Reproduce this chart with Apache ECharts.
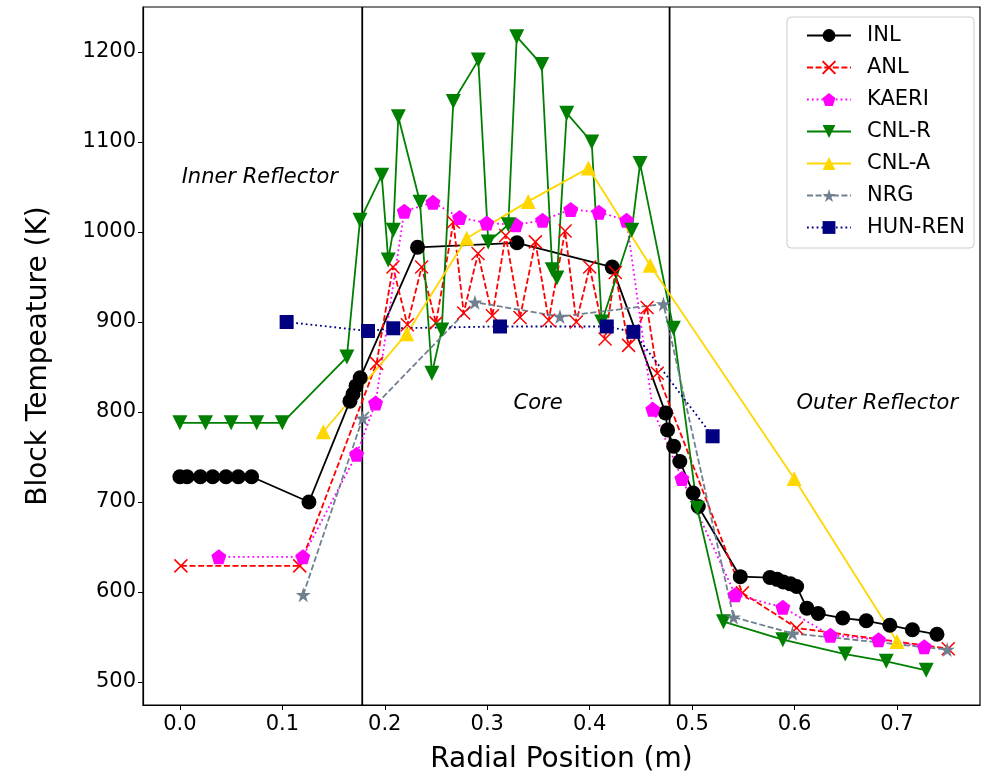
<!DOCTYPE html>
<html>
<head>
<meta charset="utf-8">
<script src="https://cdn.jsdelivr.net/npm/echarts@6/dist/echarts.min.js"></script>
<style>
html, body { margin: 0; padding: 0; background: #fff; }
#chart { width: 986px; height: 775px; }
</style>
</head>
<body>
<div id="chart"></div>
<script>
// values (x in m, y in K)
var inlX = [0, 0.007, 0.02, 0.032, 0.045, 0.057, 0.070, 0.126, 0.166, 0.169, 0.172, 0.176, 0.232, 0.329, 0.422,
    0.474, 0.476, 0.482, 0.488, 0.501, 0.506, 0.547, 0.576, 0.583, 0.589, 0.596, 0.602, 0.612, 0.623, 0.647, 0.670, 0.693, 0.715, 0.739];
var inlY = [728, 728, 728, 728, 728, 728, 728, 700, 812, 820, 829, 838, 983, 988, 961,
    799, 780, 762, 745, 710, 695, 617, 616, 614, 611, 609, 606, 582, 576, 571, 568, 563, 558, 553];

var anlX = [0.001, 0.117, 0.192, 0.208, 0.222, 0.236, 0.250, 0.267, 0.277, 0.291, 0.305, 0.318, 0.332, 0.347, 0.360,
    0.376, 0.387, 0.400, 0.415, 0.425, 0.438, 0.456, 0.466, 0.549, 0.602, 0.750];
var anlY = [629, 629, 854, 961, 897, 961, 899, 1011, 910, 976, 907, 996, 905, 989, 902,
    1001, 900, 961, 881, 955, 874, 916, 843, 599, 560, 537];

var kaeriX = [0.038, 0.120, 0.1725, 0.191, 0.219, 0.247, 0.273, 0.2995, 0.328, 0.354, 0.3815, 0.409, 0.436, 0.4616,
    0.490, 0.542, 0.5885, 0.635, 0.682, 0.7266];
var kaeriY = [639, 639, 753, 810, 1023, 1033, 1016, 1010, 1008, 1013, 1025, 1022, 1013, 803,
    726, 597, 583, 552, 547, 539];

var cnlrX = [0, 0.025, 0.05, 0.075, 0.1, 0.163, 0.1758, 0.197, 0.2034, 0.2083, 0.2132, 0.2344, 0.246, 0.2556, 0.2669,
    0.2913, 0.301, 0.3206, 0.3288, 0.3532, 0.3635, 0.368, 0.3776, 0.402, 0.4118, 0.4411, 0.4492, 0.4817, 0.505,
    0.5306, 0.5885, 0.6494, 0.6895, 0.7285];
var cnlrY = [788, 788, 788, 788, 788, 861, 1013, 1063, 969, 1002, 1128, 1033, 843, 891, 1145,
    1191, 989, 1008, 1217, 1186, 958, 949, 1132, 1100, 900, 1002, 1076, 893, 693,
    567, 547, 531, 523, 513];

var cnlaX = [0.140, 0.2214, 0.280, 0.340, 0.3988, 0.459, 0.5996, 0.700];
var cnlaY = [778, 887, 993, 1034, 1071, 963, 726, 545];

var nrgX = [0.1204, 0.1784, 0.288, 0.371, 0.472, 0.5404, 0.598, 0.749];
var nrgY = [597, 793, 922, 906, 920, 572, 554, 536];

var hunX = [0.1042, 0.1836, 0.2083, 0.3125, 0.4167, 0.4427, 0.520];
var hunY = [900, 890, 893, 895, 895, 889, 773];

var xTicks = [0, 0.1, 0.2, 0.3, 0.4, 0.5, 0.6, 0.7];
var yTicks = [500, 600, 700, 800, 900, 1000, 1100, 1200];

// region borders and labels
var borderX = [0.178, 0.478];
var regionNames = ['Inner Reflector', 'Core', 'Outer Reflector'];
var regionX = [0.078, 0.3496, 0.6807];
var regionY = [1060, 809, 809];

var X_MIN = -0.036, X_MAX = 0.781, Y_MIN = 474.4, Y_MAX = 1250;
var FONT = 'DejaVu Sans';

function pairs(xs, ys) {
    var out = [];
    for (var i = 0; i < xs.length; i++) out.push([xs[i], ys[i]]);
    return out;
}

// marker shapes
var pentagon = 'path://M100,0 L195.1,69.1 L158.8,180.9 L41.2,180.9 L4.9,69.1 Z';
var star = 'path://M100,0 L122.45,69.1 L195.1,69.1 L136.33,111.8 L158.8,180.9 L100,138.2 L41.2,180.9 L63.67,111.8 L4.9,69.1 L77.55,69.1 Z';
var cross = 'path://M0,0 L10,10 M10,0 L0,10';

function makeLine(name, xs, ys, color, dash, symbol, size, extra) {
    var s = {
        name: name,
        type: 'line',
        data: pairs(xs, ys),
        symbol: symbol,
        symbolSize: size,
        showAllSymbol: true,
        lineStyle: { color: color, width: 1.8, type: dash },
        itemStyle: { color: color, borderColor: color, borderWidth: 0 }
    };
    if (extra) {
        for (var k in extra) s[k] = extra[k];
    }
    return s;
}

var series = [];

// vertical region borders, drawn first so data sits on top
borderX.forEach(function (bx, i) {
    series.push({
        name: 'border' + i,
        type: 'line',
        silent: true,
        symbol: 'none',
        data: [[bx, Y_MIN], [bx, Y_MAX]],
        lineStyle: { color: '#000', width: 1.8 }
    });
});

series.push(
    makeLine('INL', inlX, inlY, '#000000', 'solid', 'circle', 15),
    makeLine('ANL', anlX, anlY, '#ff0000', [6, 2.6], cross, 13, {
        itemStyle: { color: 'rgba(0,0,0,0)', borderColor: '#ff0000', borderWidth: 1.5 }
    }),
    makeLine('KAERI', kaeriX, kaeriY, '#ff00ff', [1.8, 3], pentagon, 15),
    makeLine('CNL-R', cnlrX, cnlrY, '#008000', 'solid', 'triangle', 15, { symbolRotate: 180 }),
    makeLine('CNL-A', cnlaX, cnlaY, '#ffd700', 'solid', 'triangle', 15),
    makeLine('NRG', nrgX, nrgY, '#708090', [6, 2.6], star, 15),
    makeLine('HUN-REN', hunX, hunY, '#000080', [1.8, 3], 'rect', 14)
);

// region names
series.push({
    name: 'regions',
    type: 'scatter',
    silent: true,
    symbolSize: 1,
    itemStyle: { opacity: 0 },
    data: regionNames.map(function (n, i) { return { value: [regionX[i], regionY[i]], name: n }; }),
    label: {
        show: true,
        position: 'inside',
        formatter: function (p) { return p.name; },
        fontFamily: FONT,
        fontStyle: 'italic',
        fontSize: 21,
        color: '#000',
        opacity: 1
    }
});

var chart = echarts.init(document.getElementById('chart'));
chart.setOption({
    animation: false,
    backgroundColor: '#fff',
    grid: {
        left: 143, right: 6, top: 7, bottom: 70,
        outerBoundsMode: 'none',
        containLabel: false,
        show: true, borderColor: '#000', borderWidth: 1.2
    },
    legend: {
        data: ['INL', 'ANL', 'KAERI', 'CNL-R', 'CNL-A', 'NRG', 'HUN-REN'],
        orient: 'vertical',
        left: 787,
        top: 17,
        itemWidth: 44,
        itemHeight: 16,
        itemGap: 11,
        padding: [8, 9, 10, 19],
        borderColor: '#cccccc',
        borderWidth: 1,
        borderRadius: 4,
        backgroundColor: '#fff',
        textStyle: { fontFamily: FONT, fontSize: 21, color: '#000', padding: [0, 0, 0, 11] }
    },
    xAxis: {
        type: 'value',
        min: X_MIN,
        max: X_MAX,
        name: 'Radial Position (m)',
        nameLocation: 'middle',
        nameGap: 41,
        nameTextStyle: { fontFamily: FONT, fontSize: 28, color: '#000' },
        axisLine: { show: true, onZero: false, lineStyle: { color: '#000', width: 1.2 } },
        axisTick: { show: true, length: 5, customValues: xTicks, lineStyle: { color: '#000' } },
        axisLabel: {
            customValues: xTicks,
            margin: 9,
            fontFamily: FONT, fontSize: 21, color: '#000',
            formatter: function (v) { return v.toFixed(1); }
        },
        splitLine: { show: false }
    },
    yAxis: {
        type: 'value',
        min: Y_MIN,
        max: Y_MAX,
        name: 'Block Tempeature (K)',
        nameLocation: 'middle',
        nameGap: 90,
        nameTextStyle: { fontFamily: FONT, fontSize: 28, color: '#000' },
        axisLine: { show: true, onZero: false, lineStyle: { color: '#000', width: 1.2 } },
        axisTick: { show: true, length: 5, customValues: yTicks, lineStyle: { color: '#000' } },
        axisLabel: {
            customValues: yTicks,
            margin: 7,
            fontFamily: FONT, fontSize: 21, color: '#000',
            formatter: function (v) { return String(v); }
        },
        splitLine: { show: false }
    },
    series: series
});
</script>
</body>
</html>
